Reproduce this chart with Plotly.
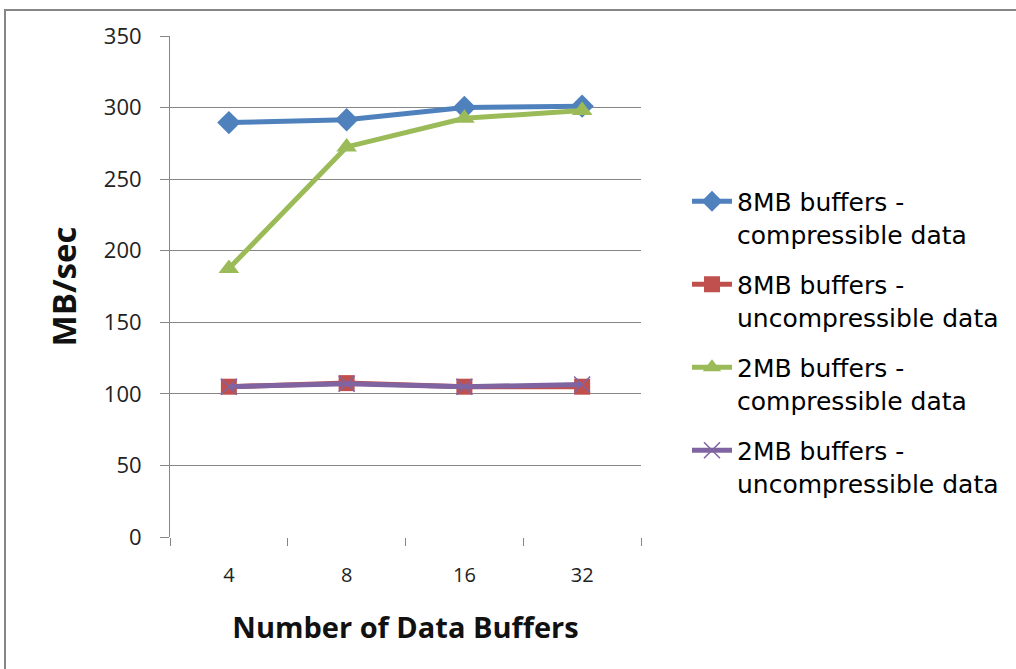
import plotly.graph_objects as go

categories = ["4", "8", "16", "32"]
s8_comp = [289.5, 291.5, 300, 301]
s8_uncomp = [105, 107.5, 105, 105]
s2_comp = [187.5, 272.5, 292.5, 298]
s2_uncomp = [105, 107, 105, 106.5]
names = ["8MB buffers -<br>compressible data", "8MB buffers -<br>uncompressible data",
         "2MB buffers -<br>compressible data", "2MB buffers -<br>uncompressible data"]
yticks = [0, 50, 100, 150, 200, 250, 300, 350]

W, H = 1016, 669
L, R, T, B = 170, 375, 36, 132
pw, ph = W - L - R, H - T - B

fig = go.Figure()
fig.add_trace(go.Scatter(x=categories, y=s8_comp, name=names[0], mode="lines+markers",
                         line=dict(color="#4F81BD", width=5),
                         marker=dict(symbol="diamond", size=18, color="#4F81BD"), legendgroup="a"))
fig.add_trace(go.Scatter(x=categories, y=s8_uncomp, name=names[1], mode="lines+markers",
                         line=dict(color="#C0504D", width=5),
                         marker=dict(symbol="square", size=16, color="#C0504D"), legendgroup="b"))
fig.add_trace(go.Scatter(x=categories, y=s2_comp, name=names[2], mode="lines+markers",
                         line=dict(color="#9BBB59", width=5),
                         marker=dict(symbol="triangle-up", size=18, color="#9BBB59"), legendgroup="c"))
fig.add_trace(go.Scatter(x=categories, y=s2_uncomp, name=names[3], mode="lines+markers",
                         line=dict(color="#8064A2", width=5),
                         marker=dict(symbol="x-thin", size=16, color="#8064A2",
                                     line=dict(color="#8064A2", width=1.5)), legendgroup="d"))

fig.update_layout(
    width=W, height=H,
    margin=dict(l=L, r=R, t=T, b=B),
    paper_bgcolor="white", plot_bgcolor="white",
    font=dict(family="Open Sans, Liberation Sans, sans-serif", color="#111111"),
    showlegend=True,
    legend=dict(x=(687 - L) / pw, xanchor="left", xref="paper",
                y=(H - B - 178.5) / ph, yanchor="top", valign="top",
                font=dict(size=25, family="DejaVu Sans", color="#000000"), tracegroupgap=15,
                bgcolor="rgba(0,0,0,0)", itemwidth=40),
    xaxis=dict(type="category", tickson="boundaries", ticks="outside", ticklen=8,
               tickcolor="#868686", showline=False, showgrid=False,
               tickfont=dict(size=20, color="#222222"), range=[-0.5, 3.5], ticklabelstandoff=24,
               title=dict(text="<b>Number of Data Buffers</b>", font=dict(size=29), standoff=30)),
    yaxis=dict(range=[0, 350], tickvals=yticks, ticks="outside", ticklen=9, tickcolor="#868686",
               showline=True, linecolor="#868686", linewidth=1,
               showgrid=True, gridcolor="#868686", gridwidth=1, zeroline=False,
               tickfont=dict(size=22, color="#222222"), ticklabelstandoff=14,
               title=dict(text="<b>MB/sec</b>", font=dict(size=33), standoff=17)),
)

# outer chart border
fig.add_shape(type="rect", xref="paper", yref="paper",
              x0=(5 - L) / pw, x1=(W + 20 - L) / pw,
              y0=-(H + 20 - T - ph) / ph, y1=1 + (T - 10) / ph,
              line=dict(color="#868686", width=2), fillcolor="rgba(0,0,0,0)", layer="below")

fig.write_html("out.html", config={"displayModeBar": False},
               post_script="document.body.style.margin='0px';")
